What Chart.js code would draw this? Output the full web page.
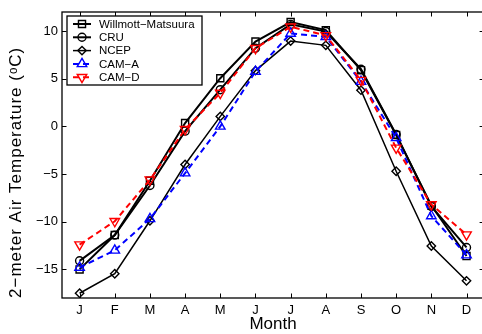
<!DOCTYPE html>
<html>
<head>
<meta charset="utf-8">
<script src="https://cdn.jsdelivr.net/npm/chart.js@4/dist/chart.umd.min.js"></script>
<style>
html,body{margin:0;padding:0;background:#fff;overflow:hidden;width:482px;height:334px;}
#wrap{width:491px;height:334px;}
</style>
</head>
<body>
<div id="wrap"><canvas id="c" width="491" height="334"></canvas></div>
<script>
const months = ['J','F','M','A','M','J','J','A','S','O','N','D'];
const yTicks = [-15, -10, -5, 0, 5, 10];
const seriesNames = ['Willmott\u2212Matsuura', 'CRU', 'NCEP', 'CAM\u2212A', 'CAM\u2212D'];
const willmott = [-15.0, -11.4, -5.7, 0.35, 5.05, 8.9, 10.95, 10.1, 5.9, -0.9, -8.3, -13.6];
const cru      = [-14.1, -11.4, -6.2, -0.5, 3.85, 8.2, 10.7, 9.95, 6.0, -0.85, -8.4, -12.7];
const ncep     = [-17.5, -15.45, -9.9, -4.0, 1.05, 5.85, 8.95, 8.5, 3.8, -4.7, -12.55, -16.2];
const camA     = [-14.8, -13.0, -9.7, -4.9, 0.0, 5.75, 9.75, 9.4, 4.7, -1.2, -9.4, -13.5];
const camD     = [-12.4, -9.95, -5.6, -0.3, 3.5, 8.2, 10.45, 9.55, 4.85, -2.25, -8.2, -11.35];
const yTitle = '2\u2212meter Air Temperature (\u1D52C)';
const xTitle = 'Month';

const FONT = 'Liberation Sans, Arial, Helvetica, sans-serif';

function ds(label, data, color, style, radius, lw, dash, rot, order) {
  return {
    label, data,
    borderColor: color, backgroundColor: 'rgba(0,0,0,0)',
    borderWidth: lw, borderDash: dash,
    pointStyle: style, pointRadius: radius, pointHoverRadius: radius,
    pointBorderWidth: 1.4, pointBorderColor: color, pointBackgroundColor: 'rgba(0,0,0,0)',
    pointRotation: rot, tension: 0, fill: false, order
  };
}

const datasets = [
  ds(seriesNames[0], willmott, '#000', 'rect', 5, 2, [], 0, 5),
  ds(seriesNames[1], cru, '#000', 'circle', 4, 2, [], 0, 4),
  ds(seriesNames[2], ncep, '#000', 'rectRot', 4.2, 1.5, [], 0, 3),
  ds(seriesNames[3], camA, '#0000ff', 'triangle', 5.5, 2, [6, 4], 0, 2),
  ds(seriesNames[4], camD, '#ff0000', 'triangle', 5.5, 2, [6, 4], 180, 1)
];

const boxPlugin = {
  id: 'box',
  afterDatasetsDraw(chart) {
    const ctx = chart.ctx;
    const a = chart.chartArea;
    const xs = chart.scales.x, ys = chart.scales.y;
    ctx.save();
    ctx.strokeStyle = '#000';
    ctx.lineWidth = 1.3;
    ctx.setLineDash([]);
    ctx.strokeRect(a.left, a.top, a.right - a.left, a.bottom - a.top);
    ctx.lineWidth = 1;
    const tl = 4.5;
    ctx.beginPath();
    xs.ticks.forEach((t, i) => {
      const x = Math.round(xs.getPixelForTick(i)) + 0.5;
      ctx.moveTo(x, a.bottom); ctx.lineTo(x, a.bottom - tl);
      ctx.moveTo(x, a.top); ctx.lineTo(x, a.top + tl);
    });
    ys.ticks.forEach((t, i) => {
      const y = Math.round(ys.getPixelForValue(t.value)) + 0.5;
      ctx.moveTo(a.left, y); ctx.lineTo(a.left + tl, y);
      ctx.moveTo(a.right, y); ctx.lineTo(a.right - tl, y);
    });
    ctx.stroke();

    // y-axis title (drawn here to allow MATLAB-like letter spacing)
    ctx.save();
    ctx.translate(16, a.bottom);
    ctx.rotate(-Math.PI / 2);
    ctx.font = '17px ' + FONT;
    if ('letterSpacing' in ctx) ctx.letterSpacing = '1px';
    ctx.textAlign = 'left';
    ctx.textBaseline = 'middle';
    ctx.fillStyle = '#000';
    ctx.fillText(yTitle, 0, 0);
    ctx.restore();

    // legend
    const lx = 67, ly = 16, lw = 135, lh = 69;
    ctx.fillStyle = '#fff';
    ctx.fillRect(lx, ly, lw, lh);
    ctx.lineWidth = 1.3;
    ctx.strokeRect(lx, ly, lw, lh);
    ctx.font = '11.5px ' + FONT;
    ctx.textBaseline = 'middle';
    ctx.textAlign = 'left';
    chart.data.datasets.forEach((d, i) => {
      const y = 24 + i * 13.3;
      ctx.strokeStyle = d.borderColor;
      ctx.lineWidth = d.borderWidth;
      ctx.setLineDash(d.borderDash || []);
      ctx.beginPath();
      ctx.moveTo(73, y); ctx.lineTo(91, y);
      ctx.stroke();
      ctx.setLineDash([]);
      ctx.lineWidth = d.pointBorderWidth;
      ctx.fillStyle = 'rgba(0,0,0,0)';
      Chart.helpers.drawPoint(ctx, {
        pointStyle: d.pointStyle, rotation: d.pointRotation,
        radius: d.pointRadius, borderWidth: d.pointBorderWidth
      }, 82, y);
      ctx.fillStyle = '#000';
      ctx.fillText(d.label, 99, y + 0.5);
    });
    ctx.restore();
  }
};

new Chart(document.getElementById('c'), {
  type: 'line',
  data: { labels: months, datasets },
  options: {
    responsive: false,
    animation: false,
    events: [],
    layout: { padding: { top: 12, right: 0, left: 0, bottom: 0 } },
    plugins: { legend: { display: false }, tooltip: { enabled: false } },
    scales: {
      x: {
        type: 'category',
        offset: true,
        grid: { display: false, drawTicks: false },
        border: { display: false },
        ticks: { color: '#000', font: { family: FONT, size: 13 }, padding: 5, maxRotation: 0, autoSkip: false },
        title: { display: true, text: xTitle, color: '#000', font: { family: FONT, size: 17 }, padding: { top: 0, bottom: -1 } },
        afterFit(s) { s.height = 36; }
      },
      y: {
        type: 'linear',
        min: -18, max: 12,
        grid: { display: false, drawTicks: false },
        border: { display: false },
        afterBuildTicks(s) { s.ticks = yTicks.map(v => ({ value: v })); },
        ticks: {
          color: '#000', font: { family: FONT, size: 13 }, padding: 4,
          callback: v => String(v).replace('-', '\u2212')
        },
        title: { display: false },
        afterFit(s) { s.width = 62; }
      }
    }
  },
  plugins: [boxPlugin]
});
</script>
</body>
</html>
